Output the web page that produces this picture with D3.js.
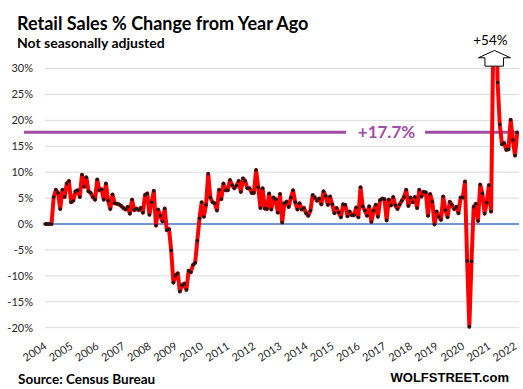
<!DOCTYPE html>
<html>
<head>
<meta charset="utf-8">
<script src="https://cdn.jsdelivr.net/npm/d3@7"></script>
<style>
  body { margin: 0; background: #fff; }
  svg { display: block; font-family: Lato, "Open Sans", sans-serif; }
</style>
</head>
<body>
<svg id="chart" width="523" height="389"></svg>
<script>
// Retail sales, % change from year ago, not seasonally adjusted, monthly Jan 2004 - Feb 2022
const startYear = 2004;
const yoy = [
  0, 0, 0, 0, 5.2, 6.6, 6.0, 2.9, 6.6, 5.2, 7.8, 8.3,            // 2004
  4.2, 4.5, 6.3, 6.5, 5.2, 9.5, 7.2, 9.0, 6.3, 6.0, 5.2, 4.7,    // 2005
  8.6, 6.5, 6.7, 4.7, 7.8, 4.5, 2.9, 5.7, 4.0, 3.9, 3.8, 3.5,    // 2006
  3.1, 2.8, 3.3, 2.0, 4.7, 2.7, 3.0, 2.7, 3.1, 2.2, 5.6, 5.9,    // 2007
  1.8, 4.2, 6.4, -0.3, 2.8, 1.6, 0.5, 3.0, -1.2, -1.0, -5.1, -11.3, // 2008
  -9.9, -9.5, -13.0, -11.8, -11.5, -12.7, -9.0, -9.3, -7.9, -7.5, -3.2, 1.1, // 2009
  4.2, 1.4, 3.7, 9.7, 5.1, 4.2, 4.0, 2.6, 6.6, 4.8, 7.8, 6.5,    // 2010
  6.5, 8.5, 7.5, 6.9, 7.4, 8.3, 6.2, 8.8, 8.3, 6.9, 6.9, 6.0,    // 2011
  6.0, 10.4, 7.1, 3.1, 6.9, 3.0, 2.9, 5.9, 2.8, 5.1, 4.8, 2.2,   // 2012
  5.8, 0.3, 4.0, 4.3, 3.3, 5.1, 6.5, 4.2, 2.8, 4.0, 2.8, 3.1,    // 2013
  2.1, 1.6, 2.6, 5.6, 5.1, 4.5, 4.9, 3.8, 6.3, 5.4, 3.7, 5.3,    // 2014
  3.8, 2.1, 3.1, 2.2, 1.3, 3.8, 3.7, 1.5, 2.4, 1.7, 1.7, 3.2,    // 2015
  1.3, 7.1, 3.4, 2.6, 1.6, 3.4, 0.4, 2.6, 3.7, 1.4, 4.6, 4.9,    // 2016
  4.8, 0.7, 4.7, 3.6, 5.2, 3.6, 2.9, 3.8, 4.5, 5.2, 6.6, 3.5,    // 2017
  5.1, 4.2, 5.2, 3.1, 6.6, 5.3, 6.2, 6.1, 1.6, 5.8, 4.3, -0.1,   // 2018
  2.4, 1.4, 0.8, 5.3, 2.7, 1.3, 4.3, 3.7, 2.9, 3.3, 2.1, 5.1,    // 2019
  5.1, 8.2, -7.1, -19.8, -7.2, 3.3, 3.9, 0.6, 7.6, 5.9, 2.0, 4.1, // 2020
  7.5, 2.4, 35, 54, 27.3, 19.2, 15.4, 15.6, 14.3, 14.4, 20.1, 16.2, // 2021
  13.2, 17.7                                                      // 2022
];
const yTicks = [30, 25, 20, 15, 10, 5, 0, -5, -10, -15, -20];
const years = d3.range(2004, 2023);
const latest = 17.7;
const peakLabel = "+54%";

const svg = d3.select("#chart");

const x = d3.scaleLinear().domain([0, yoy.length - 1]).range([45, 517.2]);
const y = d3.scaleLinear().domain([-20, 30]).range([327.7, 68.5]);
const gridRight = 519;

// gridlines
svg.append("g").selectAll("line")
  .data(yTicks.filter(t => t !== 0))
  .join("line")
  .attr("x1", x(0)).attr("x2", gridRight)
  .attr("y1", d => y(d)).attr("y2", d => y(d))
  .attr("stroke", "#d9d9d9").attr("stroke-width", 1);

// y tick labels
svg.append("g").selectAll("text")
  .data(yTicks)
  .join("text")
  .attr("x", 33).attr("y", d => y(d))
  .attr("dy", "0.35em")
  .attr("text-anchor", "end")
  .attr("font-size", 11)
  .attr("fill", "#262626")
  .text(d => d + "%");

// x year labels (rotated)
svg.append("g").selectAll("text")
  .data(years)
  .join("text")
  .attr("transform", d => `translate(${x((d - startYear) * 12) + 2.5},348) rotate(-33)`)
  .attr("text-anchor", "end")
  .attr("font-size", 11)
  .attr("fill", "#262626")
  .text(d => d);

// zero axis
svg.append("line")
  .attr("x1", x(0)).attr("x2", gridRight)
  .attr("y1", y(0)).attr("y2", y(0))
  .attr("stroke", "#4472c4").attr("stroke-width", 1.4);

// latest value reference line with label
const refY = y(latest);
svg.append("line")
  .attr("x1", 24).attr("x2", 518)
  .attr("y1", refY).attr("y2", refY)
  .attr("stroke", "#a04ca6").attr("stroke-width", 3);
svg.append("rect")
  .attr("x", 346).attr("y", refY - 9)
  .attr("width", 79).attr("height", 18)
  .attr("fill", "#fff");
svg.append("text")
  .attr("x", 386.5).attr("y", refY + 6)
  .attr("text-anchor", "middle")
  .attr("font-size", 17).attr("font-weight", 700)
  .attr("fill", "#a04ca6")
  .text("+" + latest + "%");

// data line, clipped at top of plot
svg.append("clipPath").attr("id", "plot-clip")
  .append("rect")
  .attr("x", 30).attr("y", y(30.45))
  .attr("width", 493).attr("height", 300);

const plot = svg.append("g").attr("clip-path", "url(#plot-clip)");
const line = d3.line().x((d, i) => x(i)).y(d => y(d));

plot.append("path")
  .datum(yoy)
  .attr("d", line)
  .attr("fill", "none")
  .attr("stroke", "#ff0000")
  .attr("stroke-width", 4)
  .attr("stroke-linejoin", "round");

plot.selectAll("circle")
  .data(yoy)
  .join("circle")
  .attr("cx", (d, i) => x(i))
  .attr("cy", d => y(d))
  .attr("r", 1.8)
  .attr("fill", "#1a1a1a");

// off-scale arrow for the April 2021 peak
const peakIdx = yoy.indexOf(d3.max(yoy));
const ax = x(peakIdx) - 1;
const aBase = y(30.45);
svg.append("path")
  .attr("d", `M${ax},${aBase - 15.7} L${ax + 16},${aBase - 8.4} L${ax + 9},${aBase - 8.4}
              L${ax + 9},${aBase} L${ax - 9.5},${aBase} L${ax - 9.5},${aBase - 8.4}
              L${ax - 16},${aBase - 8.4} Z`)
  .attr("fill", "#fff").attr("stroke", "#000").attr("stroke-width", 1);
svg.append("text")
  .attr("x", ax - 4).attr("y", 45)
  .attr("text-anchor", "middle")
  .attr("font-size", 13.5)
  .attr("fill", "#000")
  .text(peakLabel);

// titles
svg.append("text")
  .attr("x", 17).attr("y", 30)
  .attr("font-size", 18).attr("font-weight", 700)
  .attr("fill", "#000")
  .text("Retail Sales % Change from Year Ago");
svg.append("text")
  .attr("x", 17).attr("y", 48)
  .attr("font-size", 14).attr("font-weight", 700)
  .attr("fill", "#000")
  .text("Not seasonally adjusted");

// footer
svg.append("text")
  .attr("x", 18).attr("y", 384)
  .attr("font-size", 13.5).attr("font-weight", 700)
  .attr("fill", "#000")
  .text("Source: Census Bureau");
svg.append("text")
  .attr("x", 509).attr("y", 382)
  .attr("text-anchor", "end")
  .attr("font-family", "'Liberation Sans', Arial, sans-serif")
  .attr("font-size", 13).attr("font-weight", 900)
  .attr("fill", "#000")
  .text("WOLFSTREET.com");
</script>
</body>
</html>
